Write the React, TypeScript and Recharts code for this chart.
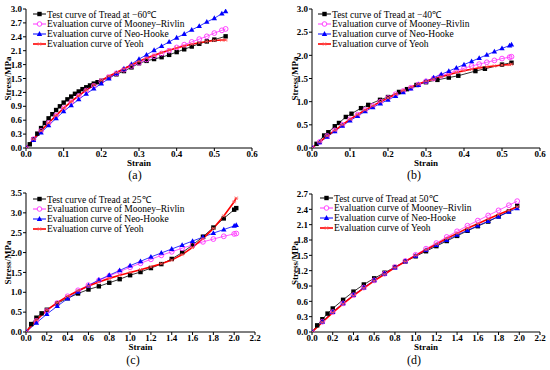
import React from 'react';
import { LineChart, Line, XAxis, YAxis, Legend, Label } from 'recharts';

const FONT = '"Liberation Serif", "Times New Roman", serif';

// (a) tread at -60℃
const strainA = [0, 0.02, 0.04, 0.06, 0.08, 0.1, 0.12, 0.14, 0.16, 0.18, 0.2, 0.22, 0.24, 0.26, 0.28, 0.3, 0.32, 0.34, 0.36, 0.38, 0.4, 0.42, 0.44, 0.46, 0.48, 0.5, 0.52, 0.53];
const mooneyA = [0, 0.19, 0.37, 0.54, 0.7, 0.86, 0.99, 1.12, 1.24, 1.34, 1.44, 1.53, 1.61, 1.69, 1.77, 1.84, 1.91, 1.98, 2.04, 2.1, 2.17, 2.23, 2.29, 2.35, 2.41, 2.48, 2.54, 2.57];
const neoA = [0, 0.17, 0.33, 0.49, 0.64, 0.79, 0.92, 1.05, 1.17, 1.28, 1.39, 1.5, 1.61, 1.71, 1.81, 1.92, 2.01, 2.11, 2.2, 2.29, 2.38, 2.46, 2.55, 2.63, 2.72, 2.8, 2.9, 2.95];
const yeohA = [0, 0.19, 0.37, 0.54, 0.7, 0.86, 1.0, 1.13, 1.25, 1.36, 1.46, 1.55, 1.63, 1.71, 1.79, 1.87, 1.94, 2.0, 2.06, 2.11, 2.16, 2.2, 2.24, 2.27, 2.3, 2.32, 2.33, 2.33];
const testStrainA = [0, 0.01, 0.02, 0.03, 0.04, 0.05, 0.06, 0.07, 0.08, 0.09, 0.1, 0.11, 0.12, 0.13, 0.14, 0.15, 0.16, 0.17, 0.18, 0.19, 0.2, 0.22, 0.24, 0.26, 0.28, 0.3, 0.32, 0.34, 0.36, 0.38, 0.4, 0.42, 0.44, 0.46, 0.48, 0.5, 0.53];
const testA = [0, 0.08, 0.19, 0.31, 0.43, 0.54, 0.64, 0.73, 0.82, 0.9, 0.98, 1.05, 1.11, 1.17, 1.22, 1.27, 1.31, 1.35, 1.39, 1.42, 1.45, 1.52, 1.59, 1.66, 1.74, 1.83, 1.88, 1.92, 1.96, 2.01, 2.07, 2.13, 2.19, 2.25, 2.3, 2.34, 2.41];

// (b) tread at -40℃
const strainB = [0, 0.02, 0.04, 0.06, 0.08, 0.1, 0.12, 0.14, 0.16, 0.18, 0.2, 0.22, 0.24, 0.26, 0.28, 0.3, 0.32, 0.34, 0.36, 0.38, 0.4, 0.42, 0.44, 0.46, 0.48, 0.5, 0.52, 0.525];
const mooneyB = [0, 0.13, 0.26, 0.38, 0.5, 0.62, 0.72, 0.82, 0.91, 1.0, 1.08, 1.16, 1.23, 1.3, 1.37, 1.44, 1.5, 1.56, 1.61, 1.67, 1.72, 1.77, 1.81, 1.85, 1.89, 1.93, 1.96, 1.97];
const neoB = [0, 0.12, 0.24, 0.36, 0.48, 0.59, 0.69, 0.79, 0.88, 0.96, 1.04, 1.12, 1.2, 1.28, 1.36, 1.44, 1.52, 1.59, 1.66, 1.73, 1.8, 1.87, 1.94, 2.01, 2.08, 2.15, 2.21, 2.23];
const yeohB = [0, 0.13, 0.26, 0.38, 0.5, 0.62, 0.72, 0.82, 0.91, 1.0, 1.08, 1.16, 1.24, 1.31, 1.38, 1.44, 1.49, 1.54, 1.58, 1.63, 1.67, 1.7, 1.73, 1.75, 1.77, 1.79, 1.8, 1.81];
const testStrainB = [0, 0.012, 0.032, 0.043, 0.06, 0.071, 0.089, 0.104, 0.129, 0.148, 0.179, 0.2, 0.229, 0.25, 0.275, 0.3, 0.33, 0.36, 0.385, 0.43, 0.455, 0.5, 0.525];
const testB = [0, 0.09, 0.27, 0.34, 0.47, 0.54, 0.67, 0.74, 0.86, 0.93, 1.04, 1.1, 1.21, 1.27, 1.36, 1.42, 1.47, 1.52, 1.56, 1.66, 1.71, 1.8, 1.84];

// (c) tread at 25℃
const strainC = [0, 0.1, 0.2, 0.3, 0.4, 0.5, 0.6, 0.7, 0.8, 0.9, 1.0, 1.1, 1.2, 1.3, 1.4, 1.5, 1.6, 1.7, 1.8, 1.9, 2.0, 2.02];
const mooneyC = [0, 0.28, 0.53, 0.73, 0.9, 1.05, 1.18, 1.3, 1.41, 1.52, 1.63, 1.73, 1.83, 1.93, 2.02, 2.11, 2.19, 2.27, 2.34, 2.41, 2.47, 2.48];
const neoC = [0, 0.23, 0.45, 0.65, 0.84, 1.01, 1.17, 1.31, 1.43, 1.55, 1.67, 1.78, 1.89, 1.99, 2.09, 2.19, 2.29, 2.39, 2.49, 2.58, 2.67, 2.69];
const yeohC = [0, 0.3, 0.55, 0.74, 0.9, 1.04, 1.16, 1.26, 1.35, 1.43, 1.5, 1.57, 1.64, 1.72, 1.81, 1.95, 2.13, 2.35, 2.61, 2.92, 3.28, 3.37];
const testStrainC = [0, 0.05, 0.1, 0.15, 0.2, 0.3, 0.4, 0.5, 0.6, 0.7, 0.8, 0.9, 1.0, 1.1, 1.2, 1.3, 1.4, 1.5, 1.6, 1.7, 1.8, 1.9, 2.0, 2.02];
const testC = [0, 0.2, 0.36, 0.47, 0.56, 0.72, 0.85, 0.97, 1.07, 1.15, 1.24, 1.33, 1.43, 1.51, 1.61, 1.71, 1.84, 2.0, 2.19, 2.4, 2.63, 2.86, 3.08, 3.12];

// (d) tread at 50℃
const strainD = [0, 0.1, 0.2, 0.3, 0.4, 0.5, 0.6, 0.7, 0.8, 0.9, 1.0, 1.1, 1.2, 1.3, 1.4, 1.5, 1.6, 1.7, 1.8, 1.9, 1.98];
const mooneyD = [0, 0.2, 0.39, 0.56, 0.72, 0.87, 1.01, 1.14, 1.27, 1.39, 1.51, 1.63, 1.74, 1.86, 1.97, 2.08, 2.18, 2.28, 2.38, 2.48, 2.56];
const neoD = [0, 0.2, 0.39, 0.56, 0.72, 0.87, 1.01, 1.14, 1.26, 1.38, 1.49, 1.6, 1.7, 1.8, 1.9, 1.99, 2.08, 2.17, 2.26, 2.35, 2.42];
const yeohD = [0, 0.19, 0.38, 0.55, 0.71, 0.86, 1.0, 1.13, 1.26, 1.38, 1.5, 1.61, 1.72, 1.83, 1.93, 2.03, 2.12, 2.21, 2.3, 2.38, 2.45];
const testStrainD = [0, 0.05, 0.1, 0.15, 0.2, 0.3, 0.4, 0.5, 0.6, 0.7, 0.8, 0.9, 1.0, 1.1, 1.2, 1.3, 1.4, 1.5, 1.6, 1.7, 1.8, 1.9, 1.98];
const testD = [0, 0.13, 0.25, 0.36, 0.46, 0.63, 0.79, 0.93, 1.05, 1.16, 1.27, 1.38, 1.48, 1.58, 1.68, 1.78, 1.88, 1.98, 2.07, 2.16, 2.26, 2.36, 2.47];

const ticksShort = [0, 0.1, 0.2, 0.3, 0.4, 0.5, 0.6];
const ticksLong = [0, 0.2, 0.4, 0.6, 0.8, 1.0, 1.2, 1.4, 1.6, 1.8, 2.0, 2.2];
const yTicksA = [0, 0.3, 0.6, 0.9, 1.2, 1.5, 1.8, 2.1, 2.4, 2.7, 3.0];
const yTicksB = [0, 0.5, 1.0, 1.5, 2.0, 2.5, 3.0];
const yTicksC = [0, 0.5, 1.0, 1.5, 2.0, 2.5, 3.0, 3.5];
const yTicksD = [0, 0.3, 0.6, 0.9, 1.2, 1.5, 1.8, 2.1, 2.4, 2.7];

const modelNames = ['Evaluation curve of Mooney\u2013Rivlin', 'Evaluation curve of Neo-Hooke', 'Evaluation curve of Yeoh'];

const rows = (xs: number[], ys: number[]) => xs.map((x, i) => ({ x, y: ys[i] }));

const squareDot = (p: any) => <rect key={`s${p.index}`} x={p.cx - 2.2} y={p.cy - 2.2} width={4.4} height={4.4} fill="#000" />;
const circleDot = (p: any) => <circle key={`c${p.index}`} cx={p.cx} cy={p.cy} r={2.4} fill="none" stroke="#ff33ff" strokeWidth={0.9} />;
const triDot = (p: any) => (
  <path key={`t${p.index}`} d={`M${p.cx},${p.cy - 2.9}L${p.cx + 2.7},${p.cy + 1.9}L${p.cx - 2.7},${p.cy + 1.9}Z`} fill="#0000ff" />
);
const starDot = (p: any) => (
  <path key={`r${p.index}`} d={`M${p.cx - 2},${p.cy}H${p.cx + 2}M${p.cx - 1.4},${p.cy - 1.6}L${p.cx + 1.4},${p.cy + 1.6}M${p.cx - 1.4},${p.cy + 1.6}L${p.cx + 1.4},${p.cy - 1.6}`} stroke="#ff5050" strokeWidth={0.8} fill="none" />
);

const icon = (kind: string) => {
  const c = 6.5, m = 4;
  if (kind === 'test') return (<svg width={13} height={8}><line x1={0} y1={m} x2={13} y2={m} stroke="#000" strokeWidth={1} />{squareDot({ cx: c, cy: m, index: 0 })}</svg>);
  if (kind === 'mooney') return (<svg width={13} height={8}><line x1={0} y1={m} x2={13} y2={m} stroke="#ff33ff" strokeWidth={1} /><circle cx={c} cy={m} r={2.3} fill="#fff" stroke="#ff33ff" strokeWidth={0.9} /></svg>);
  if (kind === 'neo') return (<svg width={13} height={8}><line x1={0} y1={m} x2={13} y2={m} stroke="#0000ff" strokeWidth={1} />{triDot({ cx: c, cy: m, index: 0 })}</svg>);
  return (<svg width={13} height={8}><line x1={0} y1={m} x2={13} y2={m} stroke="#ff0000" strokeWidth={1.6} />{starDot({ cx: c, cy: m, index: 0 })}</svg>);
};

const tickStyle = { fontFamily: FONT, fontSize: 9, fontWeight: 'bold', fill: '#000' } as const;
const titleStyle = { fontFamily: FONT, fontSize: 9, fontWeight: 'bold', fill: '#000' } as const;

function Panel(props: any) {
  const { left, top, margin, yWidth, yLabelX, xTicks, yTicks, test, mooney, neo, yeoh, testLabel, legendPos, tag } = props;
  const legendItems = [
    { kind: 'test', text: testLabel },
    { kind: 'mooney', text: modelNames[0] },
    { kind: 'neo', text: modelNames[1] },
    { kind: 'yeoh', text: modelNames[2] },
  ];
  const xDomain = [xTicks[0], xTicks[xTicks.length - 1]];
  const yDomain = [yTicks[0], yTicks[yTicks.length - 1]];
  return (
    <div style={{ position: 'absolute', left, top, width: 275, height: 185 }}>
      <LineChart width={275} height={185} margin={margin}>
        <XAxis dataKey="x" type="number" domain={xDomain} ticks={xTicks} interval={0} allowDataOverflow
          tickFormatter={(v: number) => v.toFixed(1)} tick={tickStyle} tickSize={3} tickMargin={0}
          axisLine={{ stroke: '#000' }} tickLine={{ stroke: '#000' }} height={19}>
          <Label value="Strain" position="insideBottom" offset={1} style={titleStyle} />
        </XAxis>
        <XAxis xAxisId="top" orientation="top" dataKey="x" type="number" domain={xDomain} tick={false} tickLine={false} axisLine={{ stroke: '#000' }} height={0} />
        <YAxis type="number" domain={yDomain} ticks={yTicks} interval={0} allowDataOverflow
          tickFormatter={(v: number) => v.toFixed(1)} tick={tickStyle} tickSize={3} tickMargin={1}
          axisLine={{ stroke: '#000' }} tickLine={{ stroke: '#000' }} width={yWidth}
          label={{
            content: (lp: any) => {
              const vb = lp.viewBox || { y: margin.top, height: 140 };
              const cy = vb.y + vb.height / 2;
              return (
                <text x={yLabelX} y={cy} transform={`rotate(-90 ${yLabelX} ${cy})`} textAnchor="middle" dominantBaseline="central" style={titleStyle}>
                  Stress/MPa
                </text>
              );
            },
          }} />
        <YAxis yAxisId="right" orientation="right" type="number" domain={yDomain} tick={false} tickLine={false} axisLine={{ stroke: '#000' }} width={0} />
        <Legend layout="vertical" align="center" verticalAlign="middle"
          wrapperStyle={{ position: 'absolute', left: legendPos[0], top: legendPos[1], width: 'auto' }}
          content={() => (
            <div style={{ fontFamily: FONT, fontSize: 9.5, color: '#000' }}>
              {legendItems.map((it) => (
                <div key={it.kind} style={{ display: 'flex', alignItems: 'center', height: 10, whiteSpace: 'nowrap' }}>
                  {icon(it.kind)}
                  <span style={{ marginLeft: 1 }}>{it.text}</span>
                </div>
              ))}
            </div>
          )} />
        <Line data={test} dataKey="y" stroke="#000" strokeWidth={0.8} dot={squareDot} isAnimationActive={false} legendType="none" />
        <Line data={mooney} dataKey="y" stroke="#ff33ff" strokeWidth={0.8} dot={circleDot} isAnimationActive={false} legendType="none" />
        <Line data={neo} dataKey="y" stroke="#0000ff" strokeWidth={0.8} dot={triDot} isAnimationActive={false} legendType="none" />
        <Line data={yeoh} dataKey="y" stroke="#ff0000" strokeWidth={1.6} dot={starDot} isAnimationActive={false} legendType="none" />
      </LineChart>
      <div style={{ position: 'absolute', left: tag[1] - 12, top: tag[2] - 7, width: 24, textAlign: 'center', fontFamily: FONT, fontSize: 12, lineHeight: '14px', color: '#000' }}>
        {tag[0]}
      </div>
    </div>
  );
}

export default function App() {
  return (
    <div style={{ position: 'absolute', left: 0, top: 0, width: 550, height: 370, background: '#fff' }}>
      <Panel left={0} top={0} margin={{ top: 9, right: 23, left: 0, bottom: 18 }} yWidth={26} yLabelX={8}
        xTicks={ticksShort} yTicks={yTicksA}
        test={rows(testStrainA, testA)} mooney={rows(strainA, mooneyA)} neo={rows(strainA, neoA)} yeoh={rows(strainA, yeohA)}
        testLabel={'Test curve of Tread at \u221260\u2103'} legendPos={[33, 9]} tag={['(a)', 135, 175]} />
      <Panel left={275} top={0} margin={{ top: 9, right: 10, left: 0, bottom: 18 }} yWidth={37} yLabelX={20}
        xTicks={ticksShort} yTicks={yTicksB}
        test={rows(testStrainB, testB)} mooney={rows(strainB, mooneyB)} neo={rows(strainB, neoB)} yeoh={rows(strainB, yeohB)}
        testLabel={'Test curve of Tread at \u221240\u2103'} legendPos={[43, 9]} tag={['(b)', 139, 175]} />
      <Panel left={0} top={185} margin={{ top: 8, right: 20, left: 0, bottom: 19 }} yWidth={26} yLabelX={8}
        xTicks={ticksLong} yTicks={yTicksC}
        test={rows(testStrainC, testC)} mooney={rows(strainC, mooneyC)} neo={rows(strainC, neoC)} yeoh={rows(strainC, yeohC)}
        testLabel={'Test curve of Tread at 25\u2103'} legendPos={[33, 9]} tag={['(c)', 133, 175]} />
      <Panel left={275} top={185} margin={{ top: 9, right: 10, left: 0, bottom: 19 }} yWidth={37} yLabelX={20}
        xTicks={ticksLong} yTicks={yTicksD}
        test={rows(testStrainD, testD)} mooney={rows(strainD, mooneyD)} neo={rows(strainD, neoD)} yeoh={rows(strainD, yeohD)}
        testLabel={'Test curve of Tread at 50\u2103'} legendPos={[45, 8]} tag={['(d)', 139, 175]} />
    </div>
  );
}
